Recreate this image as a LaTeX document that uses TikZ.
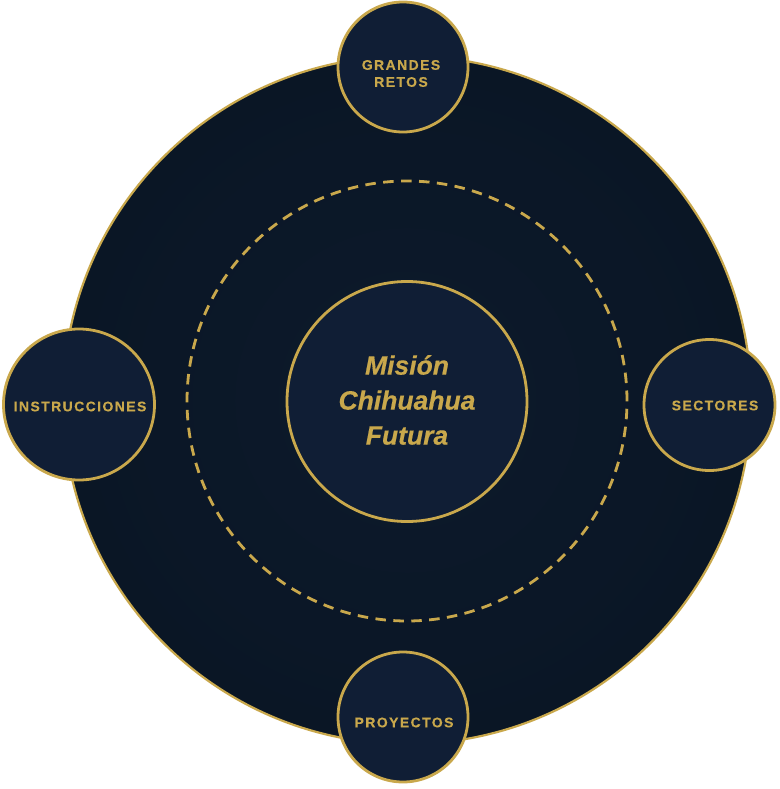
\documentclass[tikz,border=0pt]{standalone}
\usepackage{fontspec}
\setmainfont{Liberation Sans}
\definecolor{gold}{HTML}{C9A84C}
\definecolor{navyout}{HTML}{0A1625}
\definecolor{navyin}{HTML}{0D1A2C}
\definecolor{navyfill}{HTML}{101E35}
\begin{document}
\begin{tikzpicture}[x=1pt,y=-1pt]
\tikzset{
  sat/.style={circle, draw=gold, line width=2.8pt, fill=navyfill, minimum size=#1, inner sep=0pt},
  lab/.style={text=gold, inner sep=0pt, align=center,
    font=\bfseries\fontsize{14}{17}\selectfont\addfontfeatures{LetterSpace=10,FakeBold=0.3}},
  corelab/.style={text=gold, inner sep=0pt, align=center,
    font=\bfseries\itshape\fontsize{26.5}{35}\selectfont\addfontfeatures{FakeBold=0.4}},
}
\useasboundingbox (0,0) rectangle (779,789);
\node[circle, minimum size=688, inner sep=0pt, draw=gold, line width=2.2pt,
      inner color=navyin, outer color=navyout] (outer) at (407,400) {};
\node[circle, minimum size=440, inner sep=0pt, draw=gold, line width=2.8pt,
      dash pattern=on 10.5pt off 7.45pt] (orbit) at (407,401) {};
\node[sat=240, line width=2.8pt] (core) at (407,401.5) {};
\node[corelab] (corel) at (407,400) {Misión\\Chihuahua\\Futura};
\node[sat=130] (retos) at (403,67) {};
\node[sat=151] (instr) at (79,404.5) {};
\node[sat=131] (sect) at (709.5,405) {};
\node[sat=130] (proy) at (403,717) {};
\node[lab] (retosl) at (401,73.5) {GRANDES\\RETOS};
\node[lab] (instrl) at (80,406.5) {INSTRUCCIONES};
\node[lab] (sectl) at (715,405.5) {SECTORES};
\node[lab] (proyl) at (404,722.5) {PROYECTOS};
\end{tikzpicture}
\end{document}
